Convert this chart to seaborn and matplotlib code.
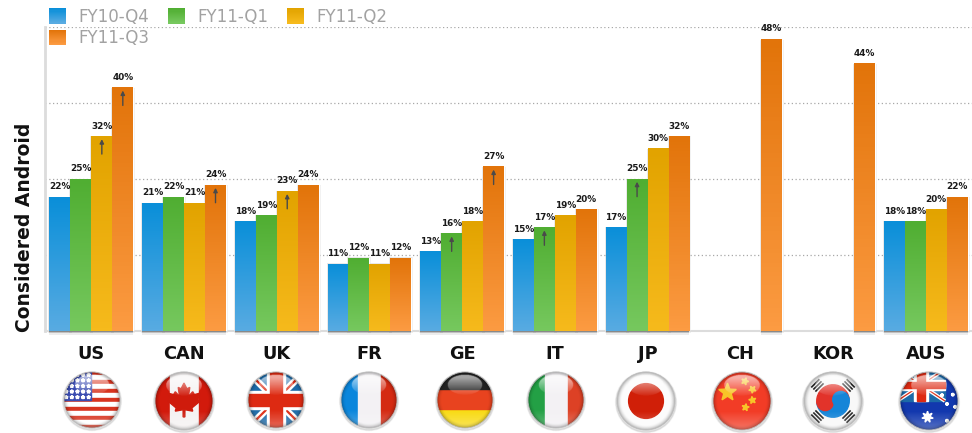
import numpy as np
import pandas as pd
import seaborn as sns
import matplotlib
matplotlib.use("Agg")
import matplotlib.pyplot as plt
from matplotlib.colors import LinearSegmentedColormap
from matplotlib.legend_handler import HandlerBase
from matplotlib.patches import Rectangle, Circle, Polygon, Wedge

countries = ["US", "CAN", "UK", "FR", "GE", "IT", "JP", "CH", "KOR", "AUS"]
quarters = ["FY10-Q4", "FY11-Q1", "FY11-Q2", "FY11-Q3"]
fy10_q4 = [22, 21, 18, 11, 13, 15, 17, np.nan, np.nan, 18]
fy11_q1 = [25, 22, 19, 12, 16, 17, 25, np.nan, np.nan, 18]
fy11_q2 = [32, 21, 23, 11, 18, 19, 30, np.nan, np.nan, 20]
fy11_q3 = [40, 24, 24, 12, 27, 20, 32, 48, 44, 22]
arrow_bars = [("US", "FY11-Q2"), ("US", "FY11-Q3"), ("CAN", "FY11-Q3"),
              ("UK", "FY11-Q2"), ("GE", "FY11-Q1"), ("GE", "FY11-Q3"),
              ("IT", "FY11-Q1"), ("JP", "FY11-Q1")]
top_colors = ["#0A8FD9", "#50AE32", "#E2A300", "#E2740A"]
bottom_colors = ["#58ABE2", "#76C85E", "#F6BA1C", "#FC9B42"]

W, H = 972, 433
sns.set_theme(style="white")
plt.rcParams["font.family"] = ["DejaVu Sans"]

df = pd.DataFrame({"country": countries, quarters[0]: fy10_q4, quarters[1]: fy11_q1,
                   quarters[2]: fy11_q2, quarters[3]: fy11_q3})
long = df.melt(id_vars="country", var_name="quarter", value_name="share")

fig = plt.figure(figsize=(W / 100, H / 100), dpi=100, facecolor="white")
ax = fig.add_axes([45 / W, (H - 331) / H, (W - 45) / W, (331 - 27) / H])
sns.barplot(data=long, x="country", y="share", hue="quarter", hue_order=quarters,
            order=countries, palette=top_colors, width=0.905, gap=0,
            ax=ax, legend=False, zorder=3)
ax.set_xlim(-0.5, 9.5)
ax.set_ylim(0, 50)

for container, c0, c1, quarter in zip(ax.containers, top_colors, bottom_colors, quarters):
    cmap = LinearSegmentedColormap.from_list("g", [c0, c1])
    for bar in container:
        x, y, w, h = bar.get_x(), bar.get_y(), bar.get_width(), bar.get_height()
        if not np.isfinite(h) or h <= 0:
            continue
        # soft shadow at the sides of the bar and a darker one under its foot
        for k in (1, 2):
            ax.add_patch(Rectangle((x, y), w, h * 0.995, fill=False, edgecolor="black",
                                   alpha=0.06, lw=k * 1.1, clip_on=False, zorder=2))
        for k, a in zip((0.2, 0.4, 0.65), (0.22, 0.13, 0.07)):
            ax.add_patch(Rectangle((x, y - k), w, k, facecolor="black", edgecolor="none",
                                   alpha=a, clip_on=False, zorder=2.7))
        ax.imshow(np.linspace(0, 1, 64).reshape(-1, 1), cmap=cmap, origin="upper",
                  extent=(x, x + w, y, y + h), aspect="auto", zorder=4, clip_on=False)
    ax.bar_label(container, fmt="%d%%", padding=4.2, fontsize=6.4, fontweight="bold",
                 color="#1a1a1a", zorder=6)
ax.set_xlim(-0.5, 9.5)
ax.set_ylim(0, 50)

# arrows on the flagged bars
for country, quarter in arrow_bars:
    bar = ax.containers[quarters.index(quarter)][countries.index(country)]
    cx = bar.get_x() + bar.get_width() / 2
    v = bar.get_height()
    ax.annotate("", xy=(cx, v - 0.45), xytext=(cx, v - 2.9), zorder=7,
                arrowprops=dict(arrowstyle="-|>", color="#4a4a4a", lw=1,
                                mutation_scale=6, shrinkA=0, shrinkB=0))

ax.set_yticks([0, 12.5, 25, 37.5, 50])
ax.set_yticklabels([])
ax.yaxis.grid(True, linestyle=(0, (1, 2)), color="#a8a8a8", lw=0.9, zorder=1)
ax.xaxis.grid(False)
ax.set_axisbelow(True)
for s in ["top", "right"]:
    ax.spines[s].set_visible(False)
ax.spines["left"].set_color("#dcdcdc")
ax.spines["left"].set_linewidth(2)
ax.spines["bottom"].set_color("#dcdcdc")
ax.spines["bottom"].set_linewidth(1.5)
ax.tick_params(axis="both", length=0)
ax.tick_params(axis="x", pad=10)
ax.set_xlabel("")
ax.set_ylabel("")
for t in ax.get_xticklabels():
    t.set_fontsize(12.8)
    t.set_fontweight("bold")
    t.set_color("#111111")
fig.text(25 / W, (H - 227) / H, "Considered Android", rotation=90, ha="center", va="center",
         fontsize=13.5, fontweight="bold", color="#111111")


class GradientHandler(HandlerBase):
    def __init__(self, c0, c1):
        super().__init__()
        self.cmap = LinearSegmentedColormap.from_list("h", [c0, c1])

    def create_artists(self, legend, orig, xd, yd, width, height, fontsize, trans):
        n = 14
        arts = []
        for i in range(n):
            arts.append(Rectangle((-xd, -yd + height * (n - 1 - i) / n), width, height / n + 0.3,
                                  facecolor=self.cmap(i / (n - 1)), edgecolor="none", transform=trans))
        return arts


proxies = [Rectangle((0, 0), 1, 1, color=c) for c in top_colors]
order = [0, 3, 1, 2]
leg = fig.legend([proxies[i] for i in order], [quarters[i] for i in order], ncol=3,
                 loc="upper left", bbox_to_anchor=(49 / W, 1 - 8 / H), frameon=False,
                 borderpad=0, borderaxespad=0, fontsize=12, handlelength=1.02, handleheight=1.02,
                 handletextpad=0.72, columnspacing=1.14, labelspacing=0.2, labelcolor="#a2a2a2",
                 handler_map={proxies[i]: GradientHandler(top_colors[i], bottom_colors[i]) for i in range(4)})


# ---------- decorative glossy flag badges ----------
def star(cx, cy, r, rot=90, n=5, inner=0.42):
    a = np.deg2rad(rot) + np.arange(2 * n) * np.pi / n
    rr = np.where(np.arange(2 * n) % 2 == 0, r, r * inner)
    return np.column_stack([cx + rr * np.cos(a), cy + rr * np.sin(a)])


def jack(a, x0, x1, y0, y1, s=1.0):
    a.add_patch(Rectangle((x0, y0), x1 - x0, y1 - y0, color="#1c6aa8", zorder=1))
    dx, dy = (x1 - x0), (y1 - y0)
    a.plot([x0, x1], [y0, y1], color="white", lw=5 * s, zorder=2, solid_capstyle="butt")
    a.plot([x0, x1], [y1, y0], color="white", lw=5 * s, zorder=2, solid_capstyle="butt")
    a.plot([x0, x1], [y0, y1], color="#dd2a12", lw=1.6 * s, zorder=2.1, solid_capstyle="butt")
    a.plot([x0, x1], [y1, y0], color="#dd2a12", lw=1.6 * s, zorder=2.1, solid_capstyle="butt")
    cx, cy = (x0 + x1) / 2, (y0 + y1) / 2
    a.add_patch(Rectangle((cx - 0.15 * dx, y0), 0.3 * dx, dy, color="white", zorder=2.2))
    a.add_patch(Rectangle((x0, cy - 0.15 * dy), dx, 0.3 * dy, color="white", zorder=2.2))
    a.add_patch(Rectangle((cx - 0.09 * dx, y0), 0.18 * dx, dy, color="#dd2a12", zorder=2.3))
    a.add_patch(Rectangle((x0, cy - 0.09 * dy), dx, 0.18 * dy, color="#dd2a12", zorder=2.3))


def band_v(a, colors, edges):
    for c, l, r in zip(colors, edges[:-1], edges[1:]):
        a.add_patch(Rectangle((l, -1.1), r - l, 2.2, color=c, zorder=1))


def band_h(a, colors, edges):
    for c, b, t in zip(colors, edges[:-1], edges[1:]):
        a.add_patch(Rectangle((-1.1, b), 2.2, t - b, color=c, zorder=1))


def draw_us(a):
    ys = np.linspace(1.05, -1.05, 14)
    for i in range(13):
        a.add_patch(Rectangle((-1.1, ys[i + 1]), 2.2, ys[i] - ys[i + 1],
                              color="#d8341f" if i % 2 == 0 else "white", zorder=1))
    a.add_patch(Rectangle((-1.1, 0.0), 1.05, 1.1, color="#3a4bb0", zorder=2))
    for yy in np.linspace(0.1, 0.9, 5):
        for xx in np.linspace(-0.92, -0.12, 5):
            a.add_patch(Polygon(star(xx, yy, 0.07), color="white", zorder=3))


def draw_can(a):
    band_v(a, ["#d21a0c", "#f5f2f2", "#d21a0c"], [-1.1, -0.5, 0.5, 1.1])
    leaf = [(0, .62), (.1, .42), (.2, .47), (.15, .15), (.3, .32), (.36, .22), (.55, .27), (.48, .05),
            (.56, 0), (.27, -.24), (.3, -.35), (.03, -.3), (.03, -.55), (-.03, -.55), (-.03, -.3),
            (-.3, -.35), (-.27, -.24), (-.56, 0), (-.48, .05), (-.55, .27), (-.36, .22), (-.3, .32),
            (-.15, .15), (-.2, .47), (-.1, .42)]
    a.add_patch(Polygon(leaf, color="#cf1b0c", zorder=3))


def draw_uk(a):
    jack(a, -1.1, 1.1, -1.1, 1.1, 1.0)


def draw_fr(a):
    band_v(a, ["#0a86dc", "#f3f1f4", "#d42a12"], [-1.1, -0.38, 0.42, 1.1])


def draw_ge(a):
    band_h(a, ["#f8da10", "#e8431f", "#222222"], [-1.1, -0.33, 0.38, 1.1])


def draw_it(a):
    band_v(a, ["#23a045", "#f3f1f4", "#dd4125"], [-1.1, -0.38, 0.42, 1.1])


def draw_jp(a):
    a.add_patch(Circle((0, 0), 1.1, color="#fcfcfc", zorder=1))
    a.add_patch(Circle((0, 0), 0.6, color="#d01f08", zorder=2))


def draw_ch(a):
    a.add_patch(Rectangle((-1.1, -1.1), 2.2, 2.2, color="#f23c26", zorder=1))
    a.add_patch(Polygon(star(-0.5, 0.3, 0.32), color="#f8c528", zorder=2))
    for (x, y, rt) in [(0.1, 0.68, 70), (0.36, 0.4, 50), (0.36, 0.03, 100), (0.12, -0.22, 80)]:
        a.add_patch(Polygon(star(x, y, 0.13, rt), color="#f8c528", zorder=2))


def draw_kor(a):
    a.add_patch(Circle((0, 0), 1.1, color="#f8f8f8", zorder=1))
    a.add_patch(Wedge((0, 0), 0.56, 10, 190, color="#e2332a", zorder=2))
    a.add_patch(Wedge((0, 0), 0.56, 190, 370, color="#1585d8", zorder=2))
    a.add_patch(Circle((-0.27, -0.05), 0.28, color="#e2332a", zorder=3))
    a.add_patch(Circle((0.27, 0.05), 0.28, color="#1585d8", zorder=3))
    for ang in (135, 45, 225, 315):
        t = np.deg2rad(ang)
        for k in range(3):
            r = 0.66 + k * 0.1
            cx, cy = r * np.cos(t), r * np.sin(t)
            hx, hy = 0.2 * np.sin(t), -0.2 * np.cos(t)
            a.plot([cx - hx, cx + hx], [cy - hy, cy + hy], color="#222222", lw=1.2, zorder=3,
                   solid_capstyle="butt")


def draw_aus(a):
    a.add_patch(Rectangle((-1.1, -1.1), 2.2, 2.2, color="#1238ae", zorder=1))
    jack(a, -1.1, 0.55, 0.0, 1.1, 0.55)
    a.add_patch(Polygon(star(-0.05, -0.55, 0.2, n=7), color="white", zorder=3))
    for (x, y) in [(0.62, -0.1), (0.62, -0.68), (0.82, 0.22), (0.9, -0.2), (0.45, 0.2)]:
        a.add_patch(Polygon(star(x, y, 0.06, n=7), color="white", zorder=3))


flags = [("US", 92, 400, 28, draw_us), ("CAN", 184, 401, 29, draw_can), ("UK", 276, 400, 28, draw_uk),
         ("FR", 369, 400, 28, draw_fr), ("GE", 465, 400, 28, draw_ge), ("IT", 556, 400, 28, draw_it),
         ("JP", 646, 401, 29, draw_jp), ("CH", 742, 401, 29, draw_ch), ("KOR", 833, 401, 29, draw_kor),
         ("AUS", 929, 401, 29, draw_aus)]

n = 160
gx, gy = np.meshgrid(np.linspace(-1, 1, n), np.linspace(1, -1, n))
rad = np.hypot(gx, gy)
shade = np.zeros((n, n, 4))
shade[..., 3] = np.clip((rad - 0.82) / 0.18, 0, 1) ** 2 * 0.3
lift = np.zeros((n, n, 4))
lift[..., :3] = 1
lift[..., 3] = np.clip((-gy - 0.35) / 0.65, 0, 1) * 0.3
gloss = np.zeros((n, n, 4))
gloss[..., :3] = 1
inside = ((gx / 0.62) ** 2 + ((gy - 0.55) / 0.36) ** 2) <= 1
gloss[..., 3] = np.where(inside, np.clip(0.1 + (gy - 0.25) * 0.9, 0, 0.6), 0)

for name, cx, cy, r, fn in flags:
    pad = 1.15
    fa = fig.add_axes([(cx - r * pad) / W, (H - cy - r * pad) / H, 2 * r * pad / W, 2 * r * pad / H])
    fa.set_xlim(-pad, pad)
    fa.set_ylim(-pad, pad)
    fa.set_aspect("equal")
    fa.axis("off")
    fa.patch.set_alpha(0)
    for k in range(1, 3):
        fa.add_patch(Circle((0, -0.04), 1 + k * 0.025, color="black", alpha=0.05, zorder=0))
    clip = Circle((0, 0), 1, transform=fa.transData)
    fn(fa)
    for art in list(fa.patches)[2:] + list(fa.lines):
        art.set_clip_path(clip)
    for img, zo in [(lift, 8), (shade, 9), (gloss, 10)]:
        im = fa.imshow(img, extent=(-1, 1, -1, 1), zorder=zo, interpolation="bilinear")
        im.set_clip_path(clip)
    fa.set_xlim(-pad, pad)
    fa.set_ylim(-pad, pad)
    fa.add_patch(Circle((0, 0), 1, fill=False, edgecolor="#bdbdbd", lw=0.6, zorder=11))

fig.savefig("out.png", dpi=100, facecolor="white")
